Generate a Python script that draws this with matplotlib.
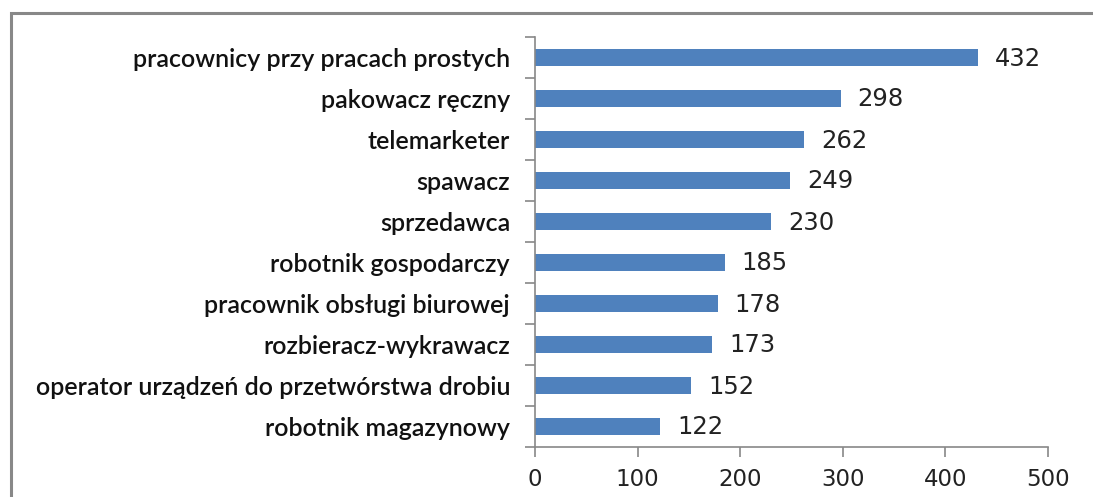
import matplotlib.pyplot as plt
from matplotlib.patches import Rectangle

# Data
occupations = [
    'pracownicy przy pracach prostych',
    'pakowacz ręczny',
    'telemarketer',
    'spawacz',
    'sprzedawca',
    'robotnik gospodarczy',
    'pracownik obsługi biurowej',
    'rozbieracz-wykrawacz',
    'operator urządzeń do przetwórstwa drobiu',
    'robotnik magazynowy',
]
counts = [432, 298, 262, 249, 230, 185, 178, 173, 152, 122]
x_ticks = [0, 100, 200, 300, 400, 500]

fig = plt.figure(figsize=(10.93, 4.97), dpi=100)
ax = fig.add_axes([535 / 1093, 1 - 447 / 497, 513 / 1093, 410 / 497])

pos = list(range(len(occupations)))[::-1]
ax.barh(pos, counts, height=0.4, color='#4F81BD')

# value labels next to bars
for p, v in zip(pos, counts):
    ax.annotate(str(v), (v, p), xytext=(17, -1), textcoords='offset pixels',
                va='center', ha='left', fontsize=17.5, color='#222222',
                family='DejaVu Sans')

ax.set_xlim(0, 500)
ax.set_ylim(-0.5, len(occupations) - 0.5)
ax.set_xticks(x_ticks)
ax.set_xticklabels([str(t) for t in x_ticks], fontsize=16.5, family='DejaVu Sans',
                   color='#222222')
ax.set_yticks([i + 0.5 for i in range(len(occupations) - 1)] + [-0.5, len(occupations) - 0.5])
ax.set_yticklabels([])
ax.set_yticks(pos, minor=True)
ax.set_yticklabels(occupations, minor=True, fontsize=18, family='Lato',
                   fontweight='semibold', color='#111111')
ax.tick_params(axis='y', which='minor', length=0, pad=18)
ax.tick_params(axis='y', which='major', length=7, color='#888888', width=1.2)
ax.tick_params(axis='x', length=7, color='#888888', width=1.2, pad=8)

for s in ['top', 'right']:
    ax.spines[s].set_visible(False)
for s in ['left', 'bottom']:
    ax.spines[s].set_color('#888888')
    ax.spines[s].set_linewidth(1.2)

# outer chart frame (open to the right and bottom, as cropped)
frame = Rectangle((11 / 1093, -0.1), 1.2, 1 - 13 / 497 + 0.1, transform=fig.transFigure,
                  fill=False, edgecolor='#888888', linewidth=2.2)
fig.patches.append(frame)

fig.savefig('out.png', dpi=100)
